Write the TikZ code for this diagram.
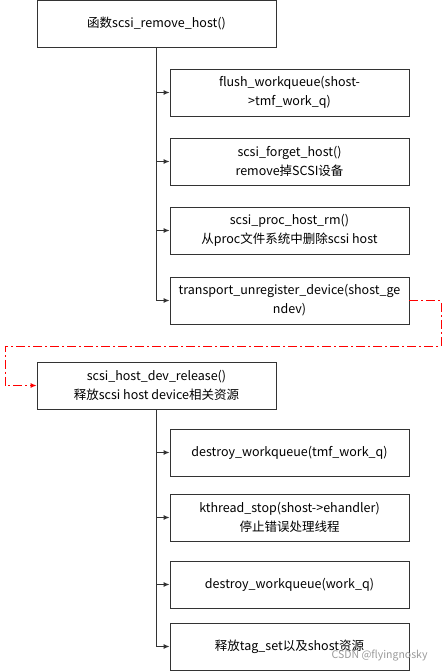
\documentclass[tikz,border=0pt]{standalone}
\usepackage{fontspec}
\setmainfont{Noto Sans CJK SC}
\usetikzlibrary{arrows.meta}

\begin{document}
\begin{tikzpicture}[x=1pt, y=-1pt,
    box/.style={rectangle, draw=black!80, line width=0.9pt, minimum width=239pt, minimum height=47pt,
                align=center, font=\fontsize{12.5}{19}\selectfont, inner sep=1pt},
    branch/.style={draw=black!80, line width=0.9pt, -{Latex[length=6pt, width=5pt]}},
    jump/.style={draw=red, line width=0.9pt, dash pattern=on 9pt off 3pt on 2pt off 3pt,
                 -{Latex[length=6pt, width=5pt]}}]
    \useasboundingbox (0,0) rectangle (446,671);

    % first call chain
    \node[box] (remove) at (156.5, 23.5) {函数scsi\_remove\_host()};
    \node[box] (flush) at (289.5, 92.5) {flush\_workqueue(shost-\\>tmf\_work\_q)};
    \node[box] (forget) at (289.5, 161.5) {scsi\_forget\_host()\\remove掉SCSI设备};
    \node[box] (procrm) at (289.5, 230.5) {scsi\_proc\_host\_rm()\\从proc文件系统中删除scsi host};
    \node[box] (unreg) at (289.5, 300.5) {transport\_unregister\_device(shost\_ge\\ndev)};

    \foreach \child in {flush, forget, procrm, unreg}
        \draw[branch] (remove.south) |- (\child.west);

    % release path
    \node[box] (release) at (156.5, 385.5) {scsi\_host\_dev\_release()\\释放scsi host device相关资源};
    \coordinate (turnR) at (441, 346);
    \coordinate (turnL) at (5, 346);
    \draw[jump] (unreg.east) -| (turnR) -- (turnL) |- (release.west);

    % second call chain
    \node[box] (tmfq) at (289.5, 452.5) {destroy\_workqueue(tmf\_work\_q)};
    \node[box] (kstop) at (289.5, 517.5) {kthread\_stop(shost->ehandler)\\停止错误处理线程};
    \node[box] (workq) at (289.5, 584.5) {destroy\_workqueue(work\_q)};
    \node[box] (tagset) at (289.5, 646.5) {释放tag\_set以及shost资源};

    \foreach \child in {tmfq, kstop, workq, tagset}
        \draw[branch] (release.south) |- (\child.west);

    \node[text=black!40, font=\fontsize{10.5}{12}\selectfont, anchor=east] (mark) at (431, 656) {CSDN @flyingnosky};
\end{tikzpicture}
\end{document}
